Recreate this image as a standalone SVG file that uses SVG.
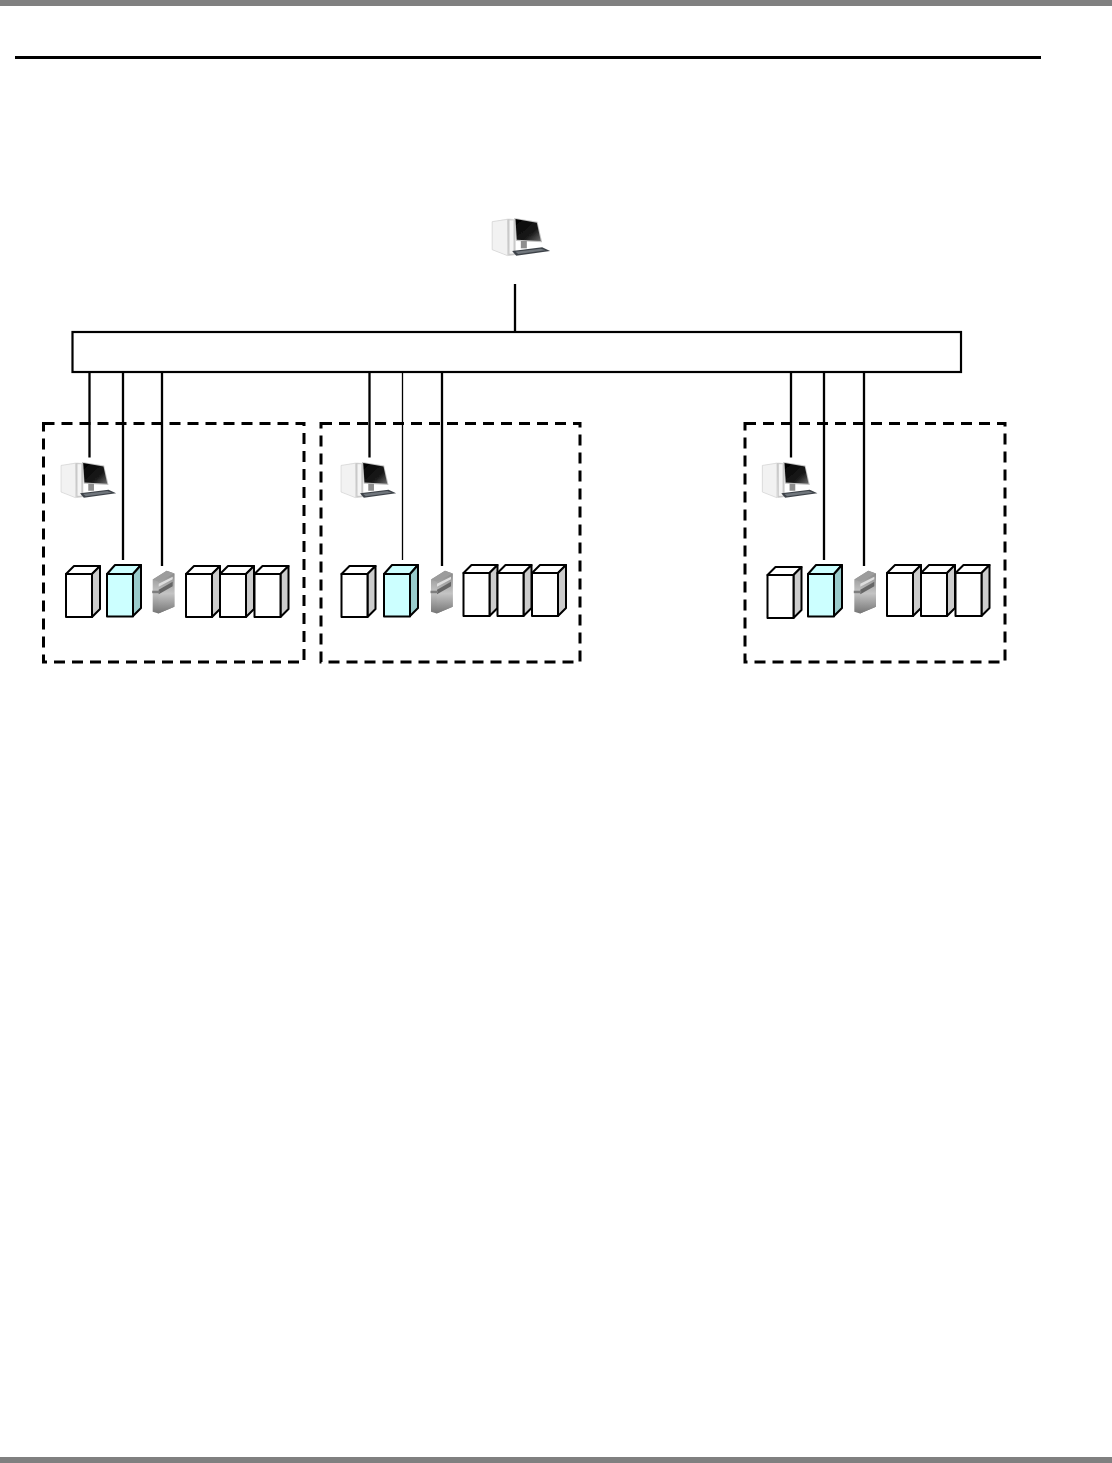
<svg xmlns="http://www.w3.org/2000/svg" width="1112" height="1463" viewBox="0 0 1112 1463">
<style>
.bar{fill:#808080}
.ln{stroke:#000;stroke-width:2.3;fill:none}
.thin{stroke:#000;stroke-width:1.3;fill:none}
.zone{fill:none;stroke:#000;stroke-width:3;stroke-dasharray:11 7}
.f{stroke:#000;stroke-width:2;stroke-linejoin:round}
</style>
<defs>
<linearGradient id="scr" x1="0" y1="0" x2="1" y2="1"><stop offset="0" stop-color="#000"/><stop offset="0.65" stop-color="#1a1a1a"/><stop offset="1" stop-color="#6a6a6a"/></linearGradient>
<linearGradient id="srv" x1="0" y1="0" x2="0" y2="1"><stop offset="0" stop-color="#8a8a8a"/><stop offset="0.5" stop-color="#c4c4c4"/><stop offset="1" stop-color="#767676"/></linearGradient>
<filter id="soft" x="-10%" y="-10%" width="120%" height="120%"><feGaussianBlur stdDeviation="0.4"/></filter>
<g id="pc" filter="url(#soft)">
<path d="M38 50L88 40L108 43V150L86 152L38 134Z" fill="#efefef"/>
<path d="M38 50L84 43V152L38 134Z" fill="#f2f2f2" stroke="#cfcfcf" stroke-width="2"/>
<path d="M84 42L108 44V150L86 152Z" fill="#c9c9c9"/>
<path d="M90 46H102V146H90Z" fill="#f4f4f4"/>
<path d="M104 39L174 50L188 112L110 108Z" fill="#c4c4c4"/>
<path d="M108 42L172 53L184 108L112 104Z" fill="url(#scr)"/>
<path d="M124 108H142V130H124Z" fill="#8e8e8e"/>
<path d="M98 138L188 127L212 138L110 152Z" fill="#3e4349"/>
<path d="M108 140L184 131L198 136L116 147Z" fill="#70767c"/>
</g>
<g id="srvicon" filter="url(#soft)">
<path d="M0 8.700L14 0L21.700 2.700V36L5.700 42.700L0 41Z" fill="url(#srv)"/>
<path d="M0 8.700L14 0L21.700 2.700L6 11Z" fill="#9c9c9c"/>
<path d="M6 11L21.700 2.700V36L5.700 42.700Z" fill="url(#srv)"/>
<path d="M6 19L20 11V15.500L6 23.500Z" fill="#666"/>
<path d="M6 13L20 6V8.500L6 16Z" fill="#dedede"/>
<path d="M-0.500 20H7V22.500H-0.500Z" fill="#7e7e7e"/>
</g>
<g id="box">
<path class="f" d="M0 8L8 0H34L26 8Z" fill="#fff"/>
<path class="f" d="M26 8L34 0V43L26 51Z" fill="#ccc"/>
<rect class="f" x="0" y="8" width="26" height="43" fill="#fff"/>
</g>
<g id="cbox">
<path class="f" d="M0 9L8 0H34L26 9Z" fill="#ccffff"/>
<path class="f" d="M26 9L34 0V43L26 51Z" fill="#99cccc"/>
<rect class="f" x="0" y="9" width="26" height="42.500" fill="#ccffff"/>
</g>
</defs>
<rect class="bar" x="0" y="0" width="1112" height="6"/>
<rect class="bar" x="0" y="1457" width="1112" height="6"/>
<rect x="15" y="56" width="1026" height="3" fill="#000"/>
<g id="connectors">
<path class="ln" d="M515 284V332"/>
<path class="ln" d="M89.500 372V457.500M123 372V560M162 372V566"/>
<path class="ln" d="M369.500 372V457.500M442 372V566"/>
<path class="thin" d="M402.500 372V560"/>
<path class="ln" d="M791 372V457.500M824 372V560M864 372V566"/>
</g>
<g id="bus"><rect x="72.500" y="332" width="888.500" height="40" fill="#fff" stroke="#000" stroke-width="2.200"/></g>
<g id="host"><use href="#pc" transform="translate(479.500,205) scale(0.3333)"/></g>
<g id="zone1">
<rect class="zone" x="43.500" y="423.500" width="260.500" height="238.500"/>
<use href="#pc" transform="translate(49,449.600) scale(0.3167)"/>
<use href="#box" x="66" y="566"/>
<use href="#cbox" x="107" y="565"/>
<use href="#srvicon" x="152.700" y="570.700"/>
<use href="#box" x="186" y="566"/>
<use href="#box" x="220" y="566"/>
<use href="#box" x="254.500" y="566"/>
</g>
<g id="zone2">
<rect class="zone" x="321" y="423.500" width="259" height="238.500"/>
<use href="#pc" transform="translate(329,449.600) scale(0.3167)"/>
<use href="#box" x="341.500" y="566"/>
<use href="#cbox" x="384" y="565"/>
<use href="#srvicon" x="431" y="570.700"/>
<use href="#box" x="463.500" y="565"/>
<use href="#box" x="497.500" y="565"/>
<use href="#box" x="532" y="565"/>
</g>
<g id="zone3">
<rect class="zone" x="745" y="423.500" width="260" height="238.500"/>
<use href="#pc" transform="translate(750.300,449.600) scale(0.3167)"/>
<use href="#box" x="767.500" y="567"/>
<use href="#cbox" x="808" y="565"/>
<use href="#srvicon" x="854.300" y="570.700"/>
<use href="#box" x="887" y="565"/>
<use href="#box" x="921" y="565"/>
<use href="#box" x="955.500" y="565"/>
</g>
</svg>
